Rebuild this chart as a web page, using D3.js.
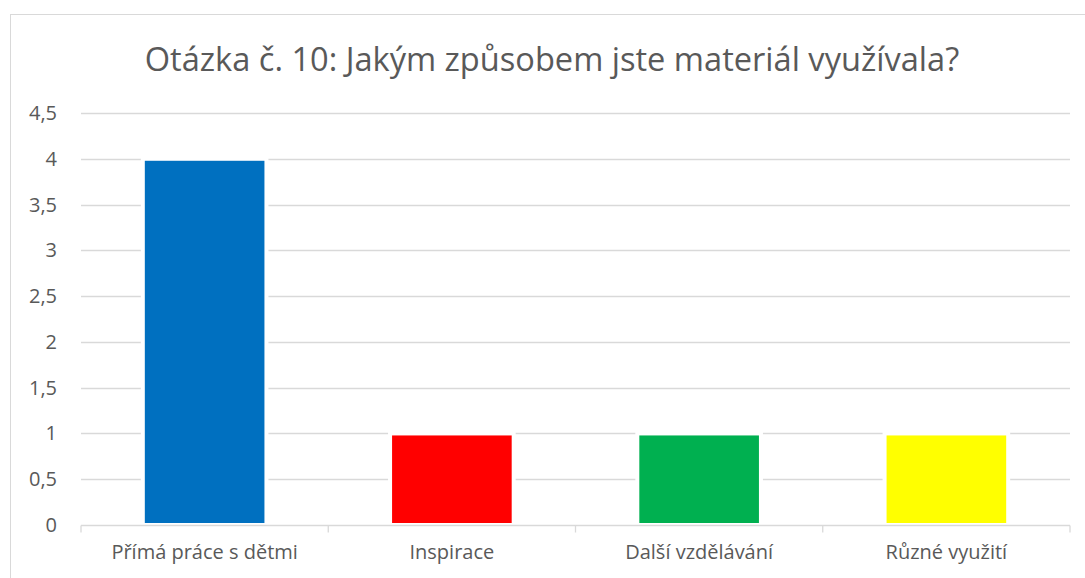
<!DOCTYPE html>
<html>
<head>
<meta charset="utf-8">
<script src="https://cdn.jsdelivr.net/npm/d3@7"></script>
<style>
  body { margin: 0; background: #fff; }
  svg { display: block; font-family: "Open Sans", sans-serif; }
</style>
</head>
<body>
<svg id="chart" width="1085" height="578"></svg>
<script>
  // chart data
  const categories = ["Přímá práce s dětmi", "Inspirace", "Další vzdělávání", "Různé využití"];
  const values = [4, 1, 1, 1];
  const colors = ["#0070C0", "#FF0000", "#00B050", "#FFFF00"];
  const yTicks = [0, 0.5, 1, 1.5, 2, 2.5, 3, 3.5, 4, 4.5];
  const title = "Otázka č. 10: Jakým způsobem jste materiál využívala?";

  const svg = d3.select("#chart");
  const plot = { left: 81, right: 1070, top: 113, bottom: 525 };
  const textColor = "#595959";

  // outer chart frame (cut off at right and bottom like the original)
  svg.append("rect")
      .attr("x", 10.5).attr("y", 14.5)
      .attr("width", 1100).attr("height", 600)
      .attr("fill", "none")
      .attr("stroke", "#d9d9d9");

  // title
  svg.append("text")
      .attr("x", 552).attr("y", 71)
      .attr("text-anchor", "middle")
      .attr("font-size", 32.6)
      .attr("fill", textColor)
      .text(title);

  const x = d3.scaleBand()
      .domain(categories)
      .range([plot.left, plot.right])
      .paddingInner(0.5)
      .paddingOuter(0.25);

  const y = d3.scaleLinear()
      .domain([0, 4.5])
      .range([plot.bottom, plot.top]);

  const fmt = d => d3.format("")(d).replace(".", ",");

  // GRIDLINES
  svg.append("g")
    .selectAll("line")
    .data(yTicks.filter(d => d > 0))
    .enter().append("line")
      .attr("x1", plot.left).attr("x2", plot.right)
      .attr("y1", d => Math.round(y(d)) + 0.5)
      .attr("y2", d => Math.round(y(d)) + 0.5)
      .attr("stroke", "#d9d9d9")
      .attr("stroke-width", 1.3);

  // Y LABELS
  svg.append("g")
    .selectAll("text")
    .data(yTicks)
    .enter().append("text")
      .attr("x", 57)
      .attr("y", d => y(d))
      .attr("dy", "0.35em")
      .attr("text-anchor", "end")
      .attr("font-size", 20)
      .attr("fill", textColor)
      .text(fmt);

  // BARS (white outline like the original)
  svg.append("g")
    .selectAll("rect")
    .data(values)
    .enter().append("rect")
      .attr("x", (d, i) => x(categories[i]))
      .attr("y", d => y(d))
      .attr("width", x.bandwidth())
      .attr("height", d => plot.bottom - y(d))
      .attr("fill", (d, i) => colors[i])
      .attr("stroke", "#fff")
      .attr("stroke-width", 4);

  // X AXIS
  const xAxis = svg.append("g")
      .attr("transform", `translate(0,${plot.bottom + 0.5})`);
  xAxis.append("line")
      .attr("x1", plot.left).attr("x2", plot.right)
      .attr("stroke", "#d9d9d9").attr("stroke-width", 1.3);
  const step = x.step();
  xAxis.selectAll(".tick")
    .data(d3.range(categories.length + 1))
    .enter().append("line")
      .attr("class", "tick")
      .attr("x1", i => plot.left + i * step)
      .attr("x2", i => plot.left + i * step)
      .attr("y1", 0).attr("y2", 7)
      .attr("stroke", "#d9d9d9").attr("stroke-width", 1.3);
  xAxis.selectAll(".label")
    .data(categories)
    .enter().append("text")
      .attr("class", "label")
      .attr("x", d => x(d) + x.bandwidth() / 2)
      .attr("y", 33)
      .attr("text-anchor", "middle")
      .attr("font-size", 20)
      .attr("fill", textColor)
      .text(d => d);
</script>
</body>
</html>
